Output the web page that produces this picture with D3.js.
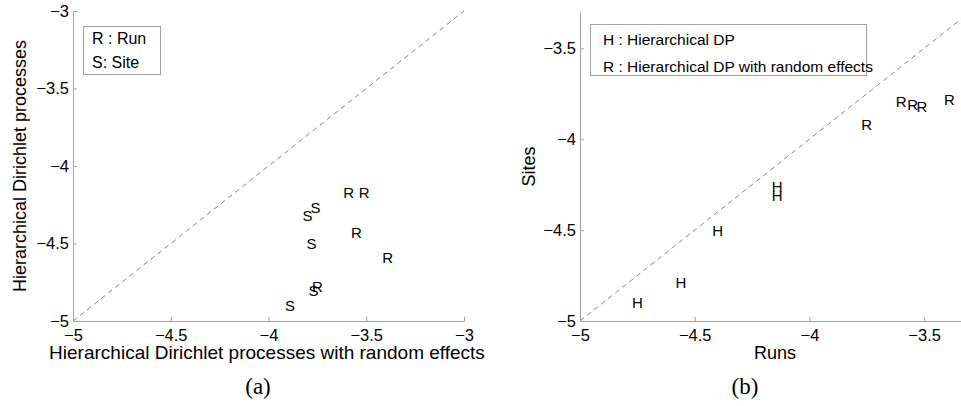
<!DOCTYPE html>
<html>
<head>
<meta charset="utf-8">
<script src="https://cdn.jsdelivr.net/npm/d3@7"></script>
<style>
  body { margin: 0; background: #fff; }
  svg text { font-family: "Liberation Sans", Arial, Helvetica, sans-serif; fill: #000; }
  svg text.caption { font-family: "Liberation Serif", "Times New Roman", serif; }
</style>
</head>
<body>
<svg width="961" height="406"></svg>
<script>
// panel (a): HDP with random effects (x) vs HDP (y)
const aRunX = [-3.59, -3.51, -3.55, -3.39, -3.75]
const aRunY = [-4.17, -4.17, -4.43, -4.59, -4.78]
const aSiteX = [-3.76, -3.80, -3.78, -3.77, -3.89]
const aSiteY = [-4.27, -4.32, -4.50, -4.80, -4.90]
const aTicks = [-5, -4.5, -4, -3.5, -3]

// panel (b): runs (x) vs sites (y)
const bHdpX = [-4.14, -4.14, -4.40, -4.56, -4.75]
const bHdpY = [-4.26, -4.31, -4.50, -4.79, -4.90]
const bReX = [-3.60, -3.55, -3.51, -3.39, -3.75]
const bReY = [-3.79, -3.81, -3.82, -3.78, -3.92]
const bTicks = [-5, -4.5, -4, -3.5]

const svg = d3.select("svg")
const fmt = d3.format("")
const axisCol = "#a0a0a0"

function panel(opt) {
    const x = d3.scaleLinear().domain(opt.dom).range(opt.xr),
        y = d3.scaleLinear().domain(opt.dom).range(opt.yr)
    const g = svg.append("g")

    // diagonal y = x
    g.append("line")
        .attr("x1", x(opt.dom[0])).attr("y1", y(opt.dom[0]))
        .attr("x2", x(opt.dom[1])).attr("y2", y(opt.dom[1]))
        .attr("stroke", "#888").attr("stroke-width", 1)
        .attr("stroke-dasharray", "5,4")

    const xa = g.append("g")
        .attr("transform", "translate(0," + opt.yr[0] + ")")
        .call(d3.axisBottom(x).tickValues(opt.ticks).tickFormat(fmt)
            .tickSizeInner(-4).tickSizeOuter(0).tickPadding(8))
    const ya = g.append("g")
        .attr("transform", "translate(" + opt.xr[0] + ",0)")
        .call(d3.axisLeft(y).tickValues(opt.ticks).tickFormat(fmt)
            .tickSizeInner(-4).tickSizeOuter(0).tickPadding(4))
    ;[xa, ya].forEach(a => {
        a.attr("font-family", null).attr("font-size", null)
        a.select(".domain").attr("stroke", axisCol)
        a.selectAll(".tick line").attr("stroke", axisCol)
        a.selectAll("text").style("font-size", "16.5px").attr("fill", "#000")
    })

    // letter markers
    opt.series.forEach(s => {
        g.selectAll(null)
            .data(s.xs)
            .enter()
            .append("text")
            .attr("x", (d, i) => x(d))
            .attr("y", (d, i) => y(s.ys[i]))
            .attr("text-anchor", "middle")
            .attr("dominant-baseline", "central")
            .style("font-size", "15px")
            .text(s.label)
    })

    // legend
    const lg = opt.legend
    g.append("rect")
        .attr("x", lg.x).attr("y", lg.y).attr("width", lg.w).attr("height", lg.h)
        .attr("fill", "#fff").attr("stroke", axisCol)
    lg.items.forEach((t, i) => {
        g.append("text")
            .attr("x", lg.tx).attr("y", lg.ty + i * lg.dy)
            .style("font-size", lg.fs + "px")
            .text(t)
    })

    // axis titles
    g.append("text")
        .attr("x", opt.xlab.x).attr("y", 359)
        .attr("text-anchor", "middle").style("font-size", opt.xlab.fs + "px")
        .text(opt.xlab.t)
    g.append("text")
        .attr("transform", "translate(" + opt.ylab.x + "," + y((opt.dom[0] + opt.dom[1]) / 2) + ") rotate(-90)")
        .attr("y", 6)
        .attr("text-anchor", "middle").style("font-size", "18px")
        .text(opt.ylab.t)

    g.append("text")
        .attr("class", "caption")
        .attr("x", opt.cap.x).attr("y", 394)
        .attr("text-anchor", "middle").style("font-size", "23px")
        .text(opt.cap.t)
}

panel({
    dom: [-5, -3], xr: [73, 464], yr: [321, 11], ticks: aTicks,
    series: [
        {label: "R", xs: aRunX, ys: aRunY},
        {label: "S", xs: aSiteX, ys: aSiteY}
    ],
    legend: {x: 83.5, y: 26.5, w: 77, h: 48, tx: 92, ty: 44, dy: 24, fs: 16,
        items: ["R : Run", "S: Site"]},
    xlab: {x: 267, fs: 19, t: "Hierarchical Dirichlet processes with random effects"},
    ylab: {x: 20, t: "Hierarchical Dirichlet processes"},
    cap: {x: 258, t: "(a)"}
})

panel({
    dom: [-5, -3.3], xr: [580, 970], yr: [321, 12], ticks: bTicks,
    series: [
        {label: "H", xs: bHdpX, ys: bHdpY},
        {label: "R", xs: bReX, ys: bReY}
    ],
    legend: {x: 590.5, y: 24.5, w: 276, h: 51, tx: 603, ty: 45, dy: 27, fs: 15.5,
        items: ["H : Hierarchical DP", "R : Hierarchical DP with random effects"]},
    xlab: {x: 775, fs: 18, t: "Runs"},
    ylab: {x: 529, t: "Sites"},
    cap: {x: 745, t: "(b)"}
})
</script>
</body>
</html>
